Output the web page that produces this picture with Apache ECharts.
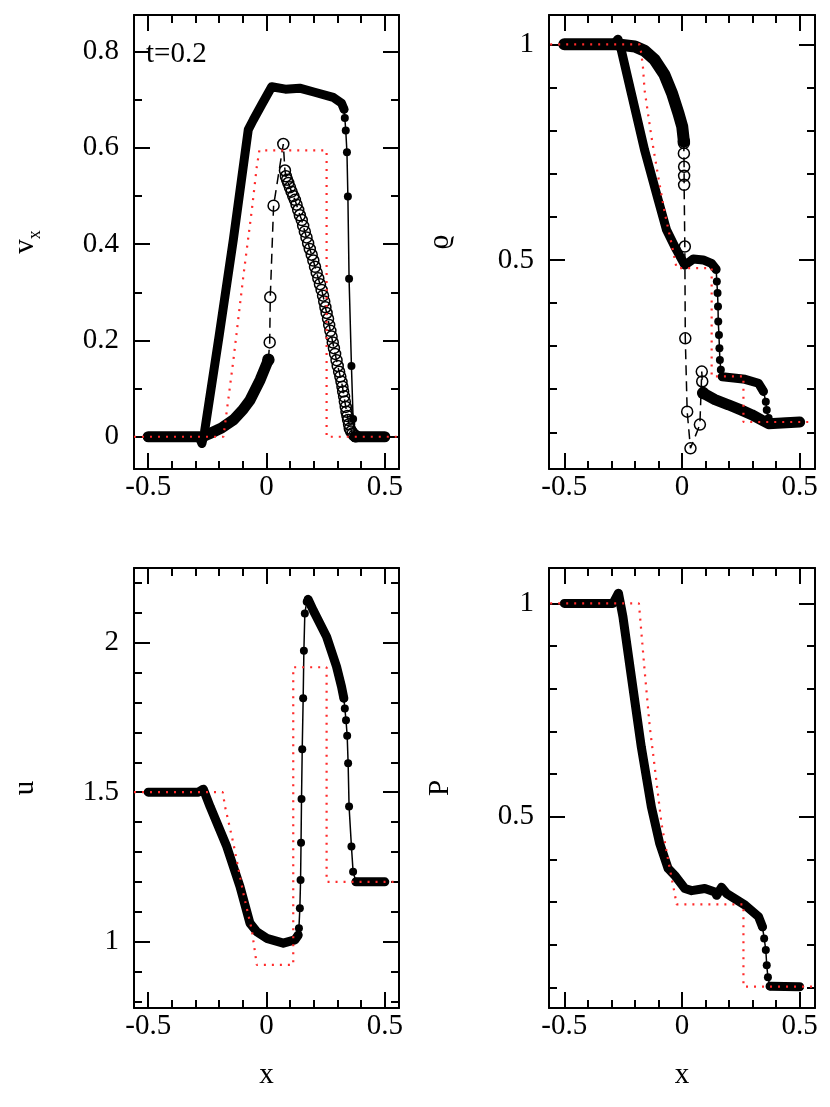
<!DOCTYPE html>
<html>
<head>
<meta charset="utf-8">
<script src="https://cdn.jsdelivr.net/npm/echarts@6/dist/echarts.min.js"></script>
<style>
  html, body { margin: 0; background: #fff; }
  #chart { width: 830px; height: 1107px; }
</style>
</head>
<body>
<div id="chart"></div>
<script>
// ---- panel 1: v_x ----
const vxFilledBand1 = [[-0.5,0],[-0.285,0],[-0.273,-0.014],[-0.262,0.01],[-0.2,0.21],[-0.14,0.41],[-0.077,0.638],[-0.056,0.658],[-0.02,0.69],[0.022,0.727],[0.08,0.722],[0.14,0.724],[0.2,0.716],[0.282,0.705],[0.317,0.693],[0.328,0.68]]
const vxFilledSteep = [[0.328,0.68],[0.331,0.662],[0.335,0.636],[0.34,0.591],[0.344,0.499],[0.349,0.328],[0.359,0.147],[0.366,0.037],[0.373,-0.003],[0.38,0]]
const vxFilledBand2 = [[0.38,0],[0.5,0]]
const vxOpenBand1 = [[-0.5,0],[-0.27,0],[-0.238,0.007],[-0.19,0.018],[-0.14,0.035],[-0.1,0.056],[-0.07,0.076],[-0.027,0.118],[0.008,0.16]]
const vxOpenSteep = [[0.008,0.16],[0.0135,0.196],[0.016,0.29],[0.03,0.48],[0.071,0.608],[0.078,0.553],[0.082,0.541],[0.087,0.534],[0.092,0.527],[0.099,0.518],[0.106,0.509],[0.113,0.5],[0.12,0.492],[0.127,0.482],[0.134,0.471],[0.141,0.46],[0.149,0.45],[0.155,0.438],[0.162,0.426],[0.169,0.414],[0.176,0.402],[0.183,0.39],[0.191,0.378],[0.198,0.366],[0.205,0.353],[0.212,0.341],[0.219,0.329],[0.226,0.317],[0.233,0.305],[0.239,0.293],[0.244,0.281],[0.249,0.269],[0.254,0.257],[0.26,0.245],[0.265,0.232],[0.27,0.22],[0.275,0.208],[0.28,0.196],[0.285,0.184],[0.29,0.172],[0.296,0.159],[0.301,0.147],[0.307,0.135],[0.312,0.125],[0.317,0.114],[0.321,0.104],[0.324,0.094],[0.328,0.084],[0.331,0.073],[0.335,0.062],[0.338,0.052],[0.342,0.043],[0.345,0.035],[0.349,0.026],[0.352,0.017],[0.358,0.011],[0.364,0.007],[0.371,0.003],[0.378,0.001]]
const vxOpenBand2 = [[0.375,0],[0.5,0]]
const vxExact = [[-0.56,0],[-0.182,0],[-0.14,0.159],[-0.098,0.333],[-0.062,0.471],[-0.041,0.561],[-0.03,0.595],[0.254,0.595],[0.254,0],[0.56,0]]

// ---- panel 2: rho ----
const rhoFilledBand1 = [[-0.5,1],[-0.29,1],[-0.272,1.012],[-0.258,0.987],[-0.215,0.886],[-0.159,0.755],[-0.101,0.639],[-0.066,0.57],[-0.031,0.531],[0.012,0.488],[0.03,0.495],[0.048,0.502],[0.09,0.5],[0.125,0.492],[0.145,0.478]]
const rhoFilledSteep1 = [[0.145,0.478],[0.148,0.45],[0.151,0.423],[0.153,0.392],[0.154,0.357],[0.157,0.326],[0.159,0.295],[0.161,0.268],[0.165,0.245],[0.171,0.229]]
const rhoFilledBand2 = [[0.171,0.229],[0.22,0.226],[0.268,0.223],[0.325,0.214],[0.346,0.195]]
const rhoFilledSteep2 = [[0.346,0.195],[0.356,0.171],[0.36,0.152],[0.368,0.133],[0.382,0.121]]
const rhoFilledBand3 = [[0.382,0.122],[0.5,0.124]]
const rhoOpenBand1 = [[-0.5,1],[-0.28,1],[-0.2,0.995],[-0.159,0.985],[-0.116,0.964],[-0.075,0.93],[-0.042,0.886],[-0.015,0.84],[0.001,0.809],[0.008,0.775]]
const rhoOpenSteep = [[0.008,0.775],[0.008,0.771],[0.008,0.747],[0.009,0.716],[0.009,0.695],[0.009,0.674],[0.012,0.531],[0.014,0.318],[0.022,0.148],[0.036,0.063],[0.076,0.118],[0.084,0.241],[0.086,0.218],[0.09,0.191]]
const rhoOpenBand2 = [[0.09,0.191],[0.14,0.176],[0.197,0.164],[0.25,0.152],[0.296,0.141],[0.34,0.128],[0.368,0.12],[0.5,0.124]]
const rhoExact = [[-0.56,1],[-0.18,1],[-0.173,0.979],[-0.166,0.948],[-0.159,0.894],[-0.13,0.786],[-0.101,0.693],[-0.073,0.608],[-0.045,0.539],[-0.023,0.481],[0.126,0.481],[0.126,0.23],[0.261,0.23],[0.261,0.124],[0.56,0.124]]

// ---- panel 3: u ----
const uFilledBand1 = [[-0.5,1.5],[-0.288,1.5],[-0.267,1.51],[-0.238,1.451],[-0.168,1.318],[-0.112,1.184],[-0.07,1.062],[-0.041,1.033],[0.001,1.011],[0.071,0.995],[0.12,1.006],[0.134,1.022]]
const uFilledSteep1 = [[0.134,1.022],[0.137,1.045],[0.141,1.112],[0.144,1.206],[0.146,1.331],[0.148,1.477],[0.151,1.644],[0.155,1.814],[0.158,1.973],[0.162,2.098],[0.17,2.137],[0.176,2.145]]
const uFilledBand2 = [[0.176,2.145],[0.197,2.109],[0.254,2.02],[0.296,1.92],[0.317,1.853],[0.327,1.814]]
const uFilledSteep2 = [[0.327,1.814],[0.331,1.78],[0.336,1.741],[0.341,1.689],[0.345,1.597],[0.349,1.452],[0.359,1.318],[0.366,1.234],[0.378,1.2]]
const uFilledBand3 = [[0.378,1.2],[0.5,1.2]]
const uExact = [[-0.56,1.5],[-0.185,1.5],[-0.175,1.451],[-0.14,1.329],[-0.098,1.162],[-0.062,1.039],[-0.041,0.922],[0.113,0.922],[0.113,1.918],[0.254,1.918],[0.254,1.2],[0.56,1.2]]

// ---- panel 4: P ----
const pFilledBand1 = [[-0.5,1],[-0.293,1],[-0.27,1.024],[-0.251,0.969],[-0.215,0.828],[-0.173,0.664],[-0.13,0.523],[-0.095,0.438],[-0.059,0.379],[-0.031,0.363],[0.012,0.332],[0.041,0.327],[0.097,0.332],[0.14,0.324],[0.147,0.316],[0.168,0.335],[0.19,0.32],[0.268,0.293],[0.325,0.266],[0.342,0.242]]
const pFilledSteep = [[0.342,0.242],[0.349,0.215],[0.356,0.188],[0.36,0.152],[0.365,0.124],[0.374,0.103]]
const pFilledBand2 = [[0.374,0.103],[0.5,0.102]]
const pExact = [[-0.56,1],[-0.183,1],[-0.159,0.844],[-0.137,0.711],[-0.116,0.617],[-0.087,0.484],[-0.059,0.399],[-0.031,0.32],[-0.023,0.295],[0.261,0.295],[0.261,0.102],[0.56,0.102]]

// ---- ticks ----
const xMajor = [-0.5, 0, 0.5]
const xMinor = [-0.4, -0.3, -0.2, -0.1, 0.1, 0.2, 0.3, 0.4]
const vxMajor = [0, 0.2, 0.4, 0.6, 0.8]
const vxMinor = [0.1, 0.3, 0.5, 0.7]
const halfMajor = [0.5, 1]
const halfMinor = [0.1, 0.2, 0.3, 0.4, 0.6, 0.7, 0.8, 0.9]
const uMajor = [1, 1.5, 2]
const uMinor = [0.8, 0.9, 1.1, 1.2, 1.3, 1.4, 1.6, 1.7, 1.8, 1.9, 2.1, 2.2]

const FONT = '"Liberation Serif", "DejaVu Serif", serif'
const panels = [
  { grid: { left: 134, top: 15, width: 265, height: 454 }, x: [-0.56, 0.56], y: [-0.067, 0.876], yMajor: vxMajor, yMinor: vxMinor, yName: '{v|v}{s|x}', xName: '' },
  { grid: { left: 549, top: 15, width: 266, height: 454 }, x: [-0.565, 0.565], y: [0.015, 1.068], yMajor: halfMajor, yMinor: halfMinor, yName: 'ϱ', xName: '' },
  { grid: { left: 134, top: 568, width: 265, height: 440 }, x: [-0.56, 0.56], y: [0.778, 2.25], yMajor: uMajor, yMinor: uMinor, yName: 'u', xName: 'x' },
  { grid: { left: 549, top: 568, width: 266, height: 440 }, x: [-0.565, 0.565], y: [0.052, 1.083], yMajor: halfMajor, yMinor: halfMinor, yName: 'P', xName: 'x' },
]

const black = '#000'
const axisFont = { fontFamily: FONT, fontSize: 29, color: black }

function tickAxis(p, dim, pos, values, len, withLine, withLabel) {
  const range = dim === 'x' ? p.x : p.y
  const ax = {
    gridIndex: panels.indexOf(p),
    type: 'value',
    position: pos,
    min: range[0],
    max: range[1],
    splitLine: { show: false },
    axisLine: { show: withLine, onZero: false, lineStyle: { color: black, width: 2 } },
    axisTick: { show: true, inside: true, length: len, customValues: values, lineStyle: { color: black, width: 2 } },
    axisLabel: { show: withLabel, customValues: values, margin: dim === 'x' ? 4 : 15, formatter: v => String(v), ...axisFont },
  }
  if (withLabel && dim === 'x' && p.xName) {
    Object.assign(ax, { name: p.xName, nameLocation: 'middle', nameGap: 53, nameTextStyle: { ...axisFont } })
  }
  if (withLabel && dim === 'y') {
    Object.assign(ax, {
      name: p.yName, nameLocation: 'middle', nameRotate: 90, nameGap: 94,
      nameTextStyle: {
        ...axisFont,
        rich: {
          v: { fontFamily: FONT, fontSize: 29, color: black },
          s: { fontFamily: FONT, fontSize: 18, color: black, verticalAlign: 'bottom', padding: [0, 0, -4, 0] },
        },
      },
    })
  }
  return ax
}

const xAxes = [], yAxes = []
panels.forEach(p => {
  xAxes.push(tickAxis(p, 'x', 'bottom', xMajor, 16, true, true))
  xAxes.push(tickAxis(p, 'x', 'bottom', xMinor, 8, false, false))
  xAxes.push(tickAxis(p, 'x', 'top', xMajor, 16, true, false))
  xAxes.push(tickAxis(p, 'x', 'top', xMinor, 8, false, false))
  yAxes.push(tickAxis(p, 'y', 'left', p.yMajor, 16, true, true))
  yAxes.push(tickAxis(p, 'y', 'left', p.yMinor, 8, false, false))
  yAxes.push(tickAxis(p, 'y', 'right', p.yMajor, 16, true, false))
  yAxes.push(tickAxis(p, 'y', 'right', p.yMinor, 8, false, false))
})

const base = i => ({ type: 'line', xAxisIndex: i * 4, yAxisIndex: i * 4, silent: true, animation: false })
const band = (i, data, w) => ({ ...base(i), data, symbol: 'none', lineStyle: { color: black, width: w, cap: 'round', join: 'round' }, z: 2 })
const dots = (i, data) => ({ ...base(i), data, symbol: 'circle', symbolSize: 8, itemStyle: { color: black }, lineStyle: { color: black, width: 1.5 }, z: 3 })
const rings = (i, data) => ({ ...base(i), data, symbol: 'circle', symbolSize: 11, itemStyle: { color: 'rgba(0,0,0,0)', borderColor: black, borderWidth: 1.5 }, lineStyle: { color: black, width: 1.5, type: [10, 6] }, z: 3 })
const exact = (i, data) => ({ ...base(i), data, symbol: 'none', lineStyle: { color: '#ff2a2a', width: 2.2, type: [2, 6] }, z: 5 })

const series = [
  band(0, vxFilledBand1, 9), band(0, vxFilledBand2, 9), dots(0, vxFilledSteep),
  band(0, vxOpenBand1, 11), band(0, vxOpenBand2, 11), rings(0, vxOpenSteep),
  exact(0, vxExact),
  band(1, rhoFilledBand1, 9), band(1, rhoFilledBand2, 9), band(1, rhoFilledBand3, 9),
  dots(1, rhoFilledSteep1), dots(1, rhoFilledSteep2),
  band(1, rhoOpenBand1, 12), band(1, rhoOpenBand2, 11), rings(1, rhoOpenSteep),
  exact(1, rhoExact),
  band(2, uFilledBand1, 9), band(2, uFilledBand2, 9), band(2, uFilledBand3, 9),
  dots(2, uFilledSteep1), dots(2, uFilledSteep2),
  exact(2, uExact),
  band(3, pFilledBand1, 9), band(3, pFilledBand2, 9), dots(3, pFilledSteep),
  exact(3, pExact),
]

const chart = echarts.init(document.getElementById('chart'), null, { renderer: 'canvas' })
chart.setOption({
  backgroundColor: '#fff',
  animation: false,
  grid: panels.map(p => ({ ...p.grid, containLabel: false })),
  xAxis: xAxes,
  yAxis: yAxes,
  series,
  graphic: [{ type: 'text', left: 146, top: 40, style: { text: 't=0.2', font: '29px "Liberation Serif"', fill: black } }],
})
</script>
</body>
</html>
